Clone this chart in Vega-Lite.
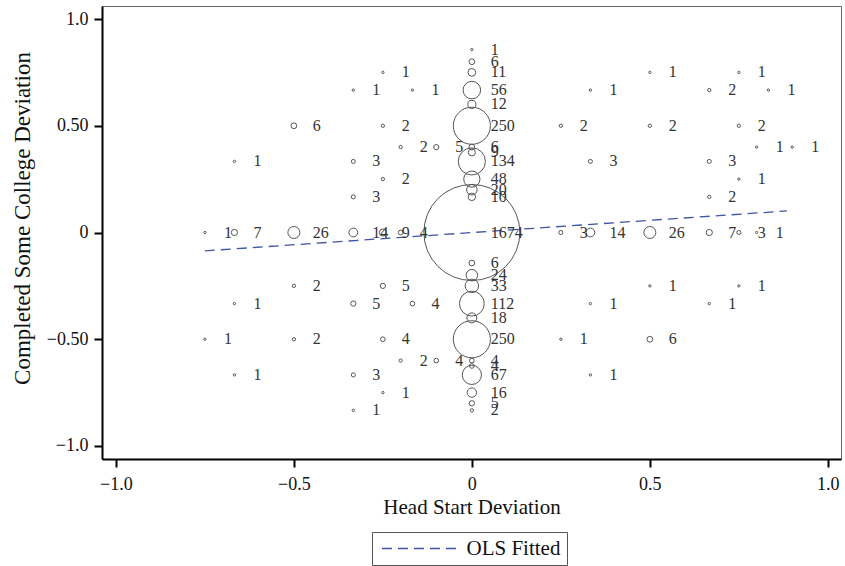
{
  "$schema": "https://vega.github.io/schema/vega-lite/v6.json",
  "width": 739,
  "height": 453,
  "autosize": "none",
  "padding": {"left": 102, "top": 6, "right": 4, "bottom": 107},
  "background": "white",
  "config": {
    "font": "Liberation Serif",
    "view": {"stroke": "#666", "strokeWidth": 1},
    "axis": {
      "grid": false,
      "domainColor": "black",
      "domainWidth": 2,
      "tickColor": "black",
      "tickWidth": 2,
      "tickSize": 8,
      "labelFont": "Liberation Serif",
      "labelFontSize": 18,
      "labelColor": "#111",
      "titleFont": "Liberation Serif",
      "titleFontSize": 21,
      "titleFontWeight": "normal",
      "titleColor": "#111"
    }
  },
  "datasets": {
    "pts": [
      {"x": -0.25, "y": 0.75, "n": 1}, {"x": -0.333, "y": 0.667, "n": 1}, {"x": -0.167, "y": 0.667, "n": 1},
      {"x": -0.5, "y": 0.5, "n": 6}, {"x": -0.25, "y": 0.5, "n": 2}, {"x": -0.2, "y": 0.4, "n": 2},
      {"x": -0.1, "y": 0.4, "n": 5}, {"x": -0.667, "y": 0.333, "n": 1}, {"x": -0.333, "y": 0.333, "n": 3},
      {"x": -0.25, "y": 0.25, "n": 2}, {"x": -0.333, "y": 0.167, "n": 3},
      {"x": -0.75, "y": 0, "n": 1}, {"x": -0.667, "y": 0, "n": 7}, {"x": -0.5, "y": 0, "n": 26},
      {"x": -0.333, "y": 0, "n": 14}, {"x": -0.25, "y": 0, "n": 9}, {"x": -0.2, "y": 0, "n": 4},
      {"x": -0.5, "y": -0.25, "n": 2}, {"x": -0.25, "y": -0.25, "n": 5}, {"x": -0.667, "y": -0.333, "n": 1},
      {"x": -0.333, "y": -0.333, "n": 5}, {"x": -0.167, "y": -0.333, "n": 4}, {"x": -0.75, "y": -0.5, "n": 1},
      {"x": -0.5, "y": -0.5, "n": 2}, {"x": -0.25, "y": -0.5, "n": 4}, {"x": -0.2, "y": -0.6, "n": 2},
      {"x": -0.1, "y": -0.6, "n": 4}, {"x": -0.667, "y": -0.667, "n": 1}, {"x": -0.333, "y": -0.667, "n": 3},
      {"x": -0.25, "y": -0.75, "n": 1}, {"x": -0.333, "y": -0.833, "n": 1},
      {"x": 0.5, "y": 0.75, "n": 1}, {"x": 0.75, "y": 0.75, "n": 1}, {"x": 0.333, "y": 0.667, "n": 1},
      {"x": 0.667, "y": 0.667, "n": 2}, {"x": 0.833, "y": 0.667, "n": 1}, {"x": 0.25, "y": 0.5, "n": 2},
      {"x": 0.5, "y": 0.5, "n": 2}, {"x": 0.75, "y": 0.5, "n": 2}, {"x": 0.8, "y": 0.4, "n": 1},
      {"x": 0.9, "y": 0.4, "n": 1}, {"x": 0.333, "y": 0.333, "n": 3}, {"x": 0.667, "y": 0.333, "n": 3},
      {"x": 0.75, "y": 0.25, "n": 1}, {"x": 0.667, "y": 0.167, "n": 2},
      {"x": 0.25, "y": 0, "n": 3}, {"x": 0.333, "y": 0, "n": 14}, {"x": 0.5, "y": 0, "n": 26},
      {"x": 0.667, "y": 0, "n": 7}, {"x": 0.75, "y": 0, "n": 3}, {"x": 0.8, "y": 0, "n": 1},
      {"x": 0.5, "y": -0.25, "n": 1}, {"x": 0.75, "y": -0.25, "n": 1}, {"x": 0.333, "y": -0.333, "n": 1},
      {"x": 0.667, "y": -0.333, "n": 1}, {"x": 0.25, "y": -0.5, "n": 1}, {"x": 0.5, "y": -0.5, "n": 6},
      {"x": 0.333, "y": -0.667, "n": 1},
      {"x": 0, "y": 0.857, "n": 1}, {"x": 0, "y": 0.8, "n": 6}, {"x": 0, "y": 0.75, "n": 11},
      {"x": 0, "y": 0.667, "n": 56}, {"x": 0, "y": 0.6, "n": 12}, {"x": 0, "y": 0.5, "n": 250},
      {"x": 0, "y": 0.4, "n": 6}, {"x": 0, "y": 0.375, "n": 9}, {"x": 0, "y": 0.333, "n": 134},
      {"x": 0, "y": 0.25, "n": 48}, {"x": 0, "y": 0.2, "n": 20}, {"x": 0, "y": 0.167, "n": 10},
      {"x": 0, "y": 0, "n": 1674},
      {"x": 0, "y": -0.143, "n": 6}, {"x": 0, "y": -0.2, "n": 24}, {"x": 0, "y": -0.25, "n": 33},
      {"x": 0, "y": -0.333, "n": 112}, {"x": 0, "y": -0.4, "n": 18}, {"x": 0, "y": -0.5, "n": 250},
      {"x": 0, "y": -0.6, "n": 4}, {"x": 0, "y": -0.625, "n": 4}, {"x": 0, "y": -0.667, "n": 67},
      {"x": 0, "y": -0.75, "n": 16}, {"x": 0, "y": -0.8, "n": 5}, {"x": 0, "y": -0.833, "n": 2}
    ],
    "fit": [
      {"x": -0.75, "y": -0.086, "s": "OLS Fitted"},
      {"x": 0.885, "y": 0.101, "s": "OLS Fitted"}
    ]
  },
  "encoding": {
    "x": {
      "field": "x", "type": "quantitative",
      "scale": {"domain": [-1.039, 1.037], "nice": false, "zero": false},
      "axis": {
        "title": "Head Start Deviation",
        "values": [-1, -0.5, 0, 0.5, 1],
        "labelExpr": "datum.value == -1 ? '\u22121.0' : datum.value == -0.5 ? '\u22120.5' : datum.value == 0 ? '0' : datum.value == 0.5 ? '0.5' : '1.0'",
        "labelPadding": 8,
        "titlePadding": 3
      }
    },
    "y": {
      "field": "y", "type": "quantitative",
      "scale": {"domain": [-1.061, 1.061], "nice": false, "zero": false},
      "axis": {
        "title": "Completed Some College Deviation",
        "titleFontSize": 23,
        "titleY": 212,
        "values": [-1, -0.5, 0, 0.5, 1],
        "labelExpr": "datum.value == -1 ? '\u22121.0' : datum.value == -0.5 ? '\u22120.50' : datum.value == 0 ? '0' : datum.value == 0.5 ? '0.50' : '1.0'",
        "labelPadding": 6,
        "titlePadding": 12
      }
    }
  },
  "layer": [
    {
      "data": {"name": "pts"},
      "mark": {"type": "point", "shape": "circle", "filled": false, "stroke": "#555", "strokeWidth": 1, "opacity": 1},
      "encoding": {
        "size": {"field": "n", "type": "quantitative", "scale": {"type": "linear", "domain": [0, 1674], "range": [0, 9216], "zero": true}, "legend": null}
      }
    },
    {
      "data": {"name": "fit"},
      "mark": {"type": "line", "strokeDash": [10, 6], "strokeWidth": 1.3},
      "encoding": {
        "color": {
          "field": "s", "type": "nominal",
          "scale": {"range": ["#3b55a8"]},
          "legend": {
            "title": null,
            "orient": "none",
            "legendX": 270,
            "legendY": 526,
            "symbolType": "M-4.706,0H4.706",
            "symbolDash": [10, 6],
            "symbolStrokeWidth": 1.3,
            "symbolSize": 289,
            "symbolOffset": 33.5,
            "labelFont": "Liberation Serif",
            "labelFontSize": 21,
            "labelColor": "#111",
            "strokeColor": "#555",
            "padding": 6,
            "labelOffset": 34
          }
        }
      }
    },
    {
      "data": {"name": "pts"},
      "mark": {"type": "text", "align": "left", "baseline": "middle", "dx": 19, "font": "Liberation Serif", "fontSize": 16, "color": "#333"},
      "encoding": {
        "text": {"field": "n", "type": "quantitative"}
      }
    }
  ]
}
